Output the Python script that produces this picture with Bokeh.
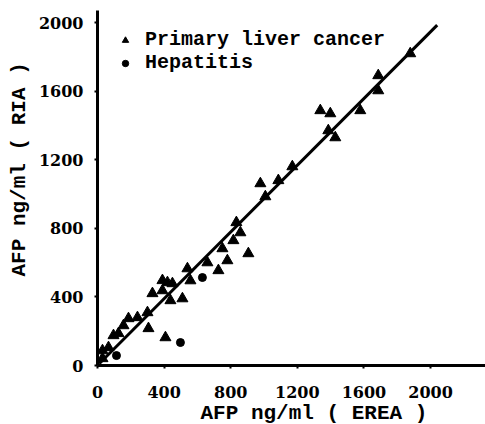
from bokeh.plotting import figure
from bokeh.models import Range1d, Legend, LegendItem, FixedTicker, Title
from bokeh.embed import file_html
from bokeh.resources import INLINE

# Primary liver cancer (triangles): AFP by EREA (x) and RIA (y), ng/ml
plc_x = [30, 30, 66, 96, 126, 156, 186, 240, 300, 306, 408, 330, 390, 390, 420,
         450, 438, 510, 540, 558, 660, 726, 750, 780, 816, 858, 834, 906, 978,
         1008, 1086, 1170, 1338, 1398, 1386, 1428, 1578, 1686, 1686, 1878]
plc_y = [41, 87, 105, 175, 187, 233, 274, 280, 309, 216, 163, 420, 437, 496, 484,
         478, 379, 390, 565, 495, 600, 554, 682, 612, 729, 775, 834, 653, 1061,
         985, 1079, 1160, 1487, 1469, 1370, 1329, 1487, 1691, 1603, 1819]

# Hepatitis (circles)
hep_x = [114, 498, 630]
hep_y = [58, 134, 513]

# Regression line end points
fit_x = [10, 2040]
fit_y = [10, 1985]

x_ticks = [0, 400, 800, 1200, 1600, 2000]
y_ticks = [0, 400, 800, 1200, 1600, 2000]

mono = "Liberation Mono"
serif = "DejaVu Serif"

p = figure(width=485, height=424, output_backend="svg", toolbar_location=None,
           x_range=Range1d(0, 2330), y_range=Range1d(0, 2070),
           min_border_left=97, min_border_right=0, min_border_top=10,
           min_border_bottom=59)
p.outline_line_color = None
p.xgrid.grid_line_color = None
p.ygrid.grid_line_color = None
p.background_fill_color = "white"
p.border_fill_color = "white"

for ax in (p.xaxis[0], p.yaxis[0]):
    ax.axis_line_width = 3
    ax.axis_line_color = "black"
    ax.major_tick_in = 0
    ax.major_tick_out = 3
    ax.major_tick_line_width = 2
    ax.minor_tick_line_color = None
    ax.major_label_text_font = serif
    ax.major_label_text_font_style = "bold"
    ax.major_label_text_font_size = "16px"
    ax.major_label_text_color = "black"
p.xaxis.ticker = FixedTicker(ticks=x_ticks)
p.yaxis.ticker = FixedTicker(ticks=y_ticks)
p.xaxis.major_label_standoff = 17
p.yaxis.major_label_standoff = 11

p.line(fit_x, fit_y, line_width=3, line_color="black")
r_tri = p.scatter(plc_x, plc_y, marker="triangle", size=11, fill_color="black",
                  line_color="black")
r_cir = p.scatter(hep_x, hep_y, marker="circle", size=8, fill_color="black",
                  line_color="black")

legend = Legend(items=[LegendItem(label="Primary liver cancer", renderers=[r_tri]),
                       LegendItem(label="Hepatitis", renderers=[r_cir])],
                location="top_left", margin=0, padding=18, spacing=0,
                glyph_width=20, glyph_height=16, label_height=16,
                label_standoff=10, background_fill_alpha=0,
                border_line_color="white", border_line_alpha=0,
                label_text_font=mono, label_text_font_style="bold",
                label_text_font_size="20px", label_text_line_height=0.8,
                label_text_color="black")
p.add_layout(legend)

p.add_layout(Title(text="AFP ng/ml ( EREA )", align="left", offset=103, standoff=-2,
                   text_font=mono, text_font_style="bold", text_font_size="21px",
                   text_line_height=0.9, text_color="black"), "below")
p.add_layout(Title(text="AFP ng/ml ( RIA )", align="left", offset=89, standoff=10,
                   text_font=mono, text_font_style="bold", text_font_size="21px",
                   text_color="black"), "left")

open("out.html", "w").write(file_html(p, INLINE))
